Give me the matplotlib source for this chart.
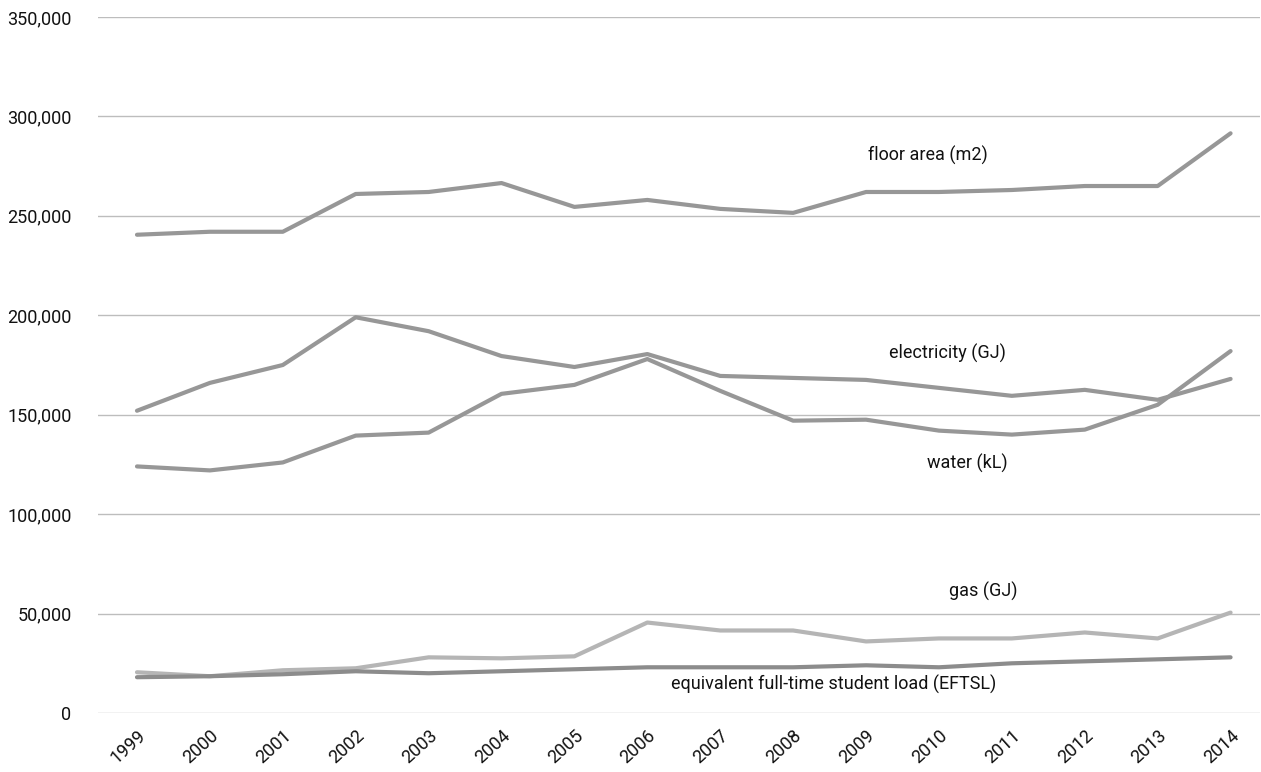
import matplotlib
matplotlib.use("Agg")
import matplotlib.pyplot as plt
from matplotlib.ticker import FuncFormatter

years = list(range(1999, 2015))

floor_area = [240500, 242000, 242000, 261000, 262000, 266500, 254500, 258000,
              253500, 251500, 262000, 262000, 263000, 265000, 265000, 291500]
electricity = [152000, 166000, 175000, 199000, 192000, 179500, 174000, 180500,
               169500, 168500, 167500, 163500, 159500, 162500, 157500, 168000]
water = [124000, 122000, 126000, 139500, 141000, 160500, 165000, 178000,
         162000, 147000, 147500, 142000, 140000, 142500, 155000, 182000]
gas = [20500, 18500, 21500, 22500, 28000, 27500, 28500, 45500,
       41500, 41500, 36000, 37500, 37500, 40500, 37500, 50500]
eftsl = [18000, 18500, 19500, 21000, 20000, 21000, 22000, 23000,
         23000, 23000, 24000, 23000, 25000, 26000, 27000, 28000]

plt.rcParams['font.family'] = ['Roboto', 'DejaVu Sans']

fig = plt.figure(figsize=(12.61, 7.72), dpi=100)
ax = fig.add_axes([0.0777, 0.0764, 0.9213, 0.9016])

lw = 3.0
ax.plot(years, floor_area, color='#979797', lw=lw, solid_capstyle='round')
ax.plot(years, electricity, color='#979797', lw=lw, solid_capstyle='round')
ax.plot(years, water, color='#979797', lw=lw, solid_capstyle='round')
ax.plot(years, gas, color='#b5b5b5', lw=lw, solid_capstyle='round')
ax.plot(years, eftsl, color='#8c8c8c', lw=lw, solid_capstyle='round')

# series labels
lab = dict(fontsize=13, color='#111111', ha='center', va='center')
ax.text(2009.85, 280300, "floor area (m2)", **lab)
ax.text(2010.12, 180700, "electricity (GJ)", **lab)
ax.text(2010.39, 125300, "water (kL)", **lab)
ax.text(2010.61, 60900, "gas (GJ)", **lab)
ax.text(2008.56, 14600, "equivalent full-time student load (EFTSL)", **lab)

ax.set_xlim(1998.465, 2014.4)
ax.set_ylim(0, 350000)
ax.set_yticks(range(0, 350001, 50000))
ax.yaxis.set_major_formatter(FuncFormatter(lambda v, p: f"{int(v):,}"))
ax.set_xticks(years)
ax.set_xticklabels([str(y) for y in years], rotation=42, ha='right',
                   rotation_mode='anchor')

ax.grid(axis='y', color='#bdbdbd', lw=1)
ax.set_axisbelow(True)
for s in ax.spines.values():
    s.set_visible(False)
ax.tick_params(axis='both', length=0, labelsize=13, colors='#111111')
ax.tick_params(axis='y', pad=19)
ax.tick_params(axis='x', pad=10)

fig.savefig("out.png", dpi=100)
